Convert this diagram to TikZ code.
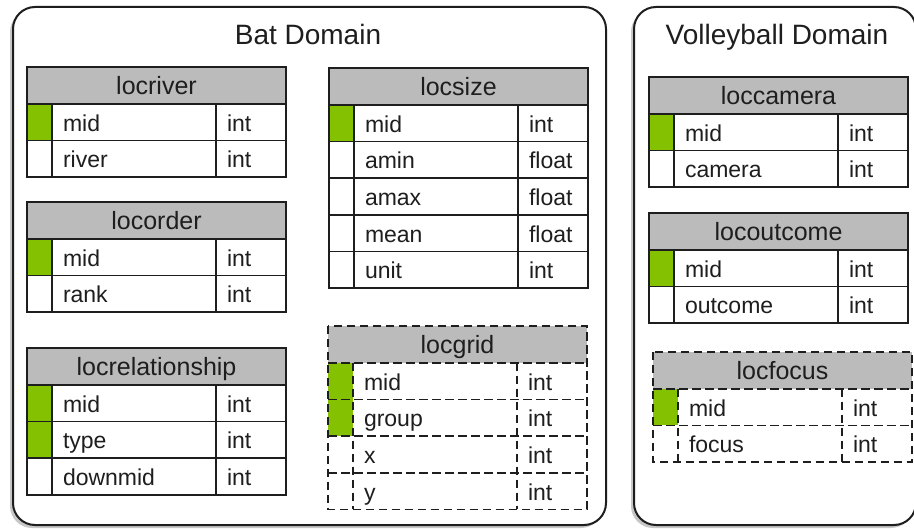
\documentclass[tikz,border=0pt]{standalone}
\usepackage{fontspec}
\setmainfont{Liberation Sans}
\usetikzlibrary{shadows}
\definecolor{hdr}{HTML}{BBBBBB}
\definecolor{keyg}{HTML}{84C100}
\definecolor{ink}{HTML}{1E1E1E}
\tikzset{
  cell/.style={minimum height=36.7pt, inner sep=0pt,
    outer sep=0pt, anchor=north west, text height=18pt, text depth=0pt,
    font=\fontsize{23}{25}\selectfont, text=ink},
  hdrcell/.style={cell, fill=hdr, minimum width=259pt, font=\fontsize{25}{27}\selectfont},
  keycell/.style={cell, minimum width=25pt},
  namecell/.style={cell, minimum width=164pt, text width=142pt, inner xsep=11pt, align=left},
  typecell/.style={cell, minimum width=70pt, text width=48pt, inner xsep=11pt, align=left},
  tabline/.style={draw=ink, line width=1.7pt},
  solidtab/.style={},
  dashedtab/.style={dash pattern=on 8.5pt off 4.5pt},
  domainbox/.style={draw=ink, line width=2pt, rounded corners=22pt, fill=white,
    anchor=north west, inner sep=0pt, outer sep=0pt,
    drop shadow={shadow xshift=-3pt, shadow yshift=-3pt, opacity=0.22, fill=black}},
  domtitle/.style={font=\fontsize{28}{30}\selectfont, text=ink, anchor=base, inner sep=0pt},
}
\newcommand{\dbtable}[6]{%
  \begin{scope}[shift={(#2,#3)}]
    \node[hdrcell] (#1) at (0,0) {#5};
    \foreach \fn/\ft/\fk [count=\i] in {#6} {
      \pgfmathsetmacro{\yy}{36.7*\i}
      \ifnum\fk=1 \def\kfill{keyg}\else\def\kfill{white}\fi
      \node[keycell,fill=\kfill] (#1-k\i) at (0,\yy) {};
      \node[namecell,fill=white] (#1-n\i) at (25,\yy) {\fn};
      \node[typecell,fill=white] (#1-t\i) at (189,\yy) {\ft};
      \xdef\lastrow{\i}
    }
    \draw[tabline,#4] (#1.north west) rectangle (#1-t\lastrow.south east);
    \foreach \j in {1,...,\lastrow} {
      \draw[tabline,#4] (#1-k\j.north west) -- (#1-t\j.north east);
    }
    \draw[tabline,#4] (#1-k1.north east) -- (#1-k\lastrow.south east);
    \draw[tabline,#4] (#1-t1.north west) -- (#1-t\lastrow.south west);
  \end{scope}}
\begin{document}
\begin{tikzpicture}[x=1pt, y=-1pt]
  \useasboundingbox (0,0) rectangle (914,529);
  \fill[white] (0,0) rectangle (914,529);
  \node[domainbox, minimum width=593pt, minimum height=518pt] (bat) at (13,7) {};
  \node[domainbox, minimum width=282pt, minimum height=518pt] (volley) at (634,7) {};
  \node[domtitle] (battitle) at (308,45) {Bat Domain};
  \node[domtitle] (volleytitle) at (777,45) {Volleyball Domain};

  \dbtable{locriver}{27}{67}{solidtab}{locriver}{mid/int/1, river/int/0}
  \dbtable{locorder}{27}{202}{solidtab}{locorder}{mid/int/1, rank/int/0}
  \dbtable{locrelationship}{27}{348}{solidtab}{locrelationship}{mid/int/1, type/int/1, downmid/int/0}
  \dbtable{locsize}{329}{68}{solidtab}{locsize}{mid/int/1, amin/float/0, amax/float/0, mean/float/0, unit/int/0}
  \dbtable{locgrid}{328}{326}{dashedtab}{locgrid}{mid/int/1, group/int/1, x/int/0, y/int/0}
  \dbtable{loccamera}{649}{77}{solidtab}{loccamera}{mid/int/1, camera/int/0}
  \dbtable{locoutcome}{649}{213}{solidtab}{locoutcome}{mid/int/1, outcome/int/0}
  \dbtable{locfocus}{653}{352}{dashedtab}{locfocus}{mid/int/1, focus/int/0}
\end{tikzpicture}
\end{document}
